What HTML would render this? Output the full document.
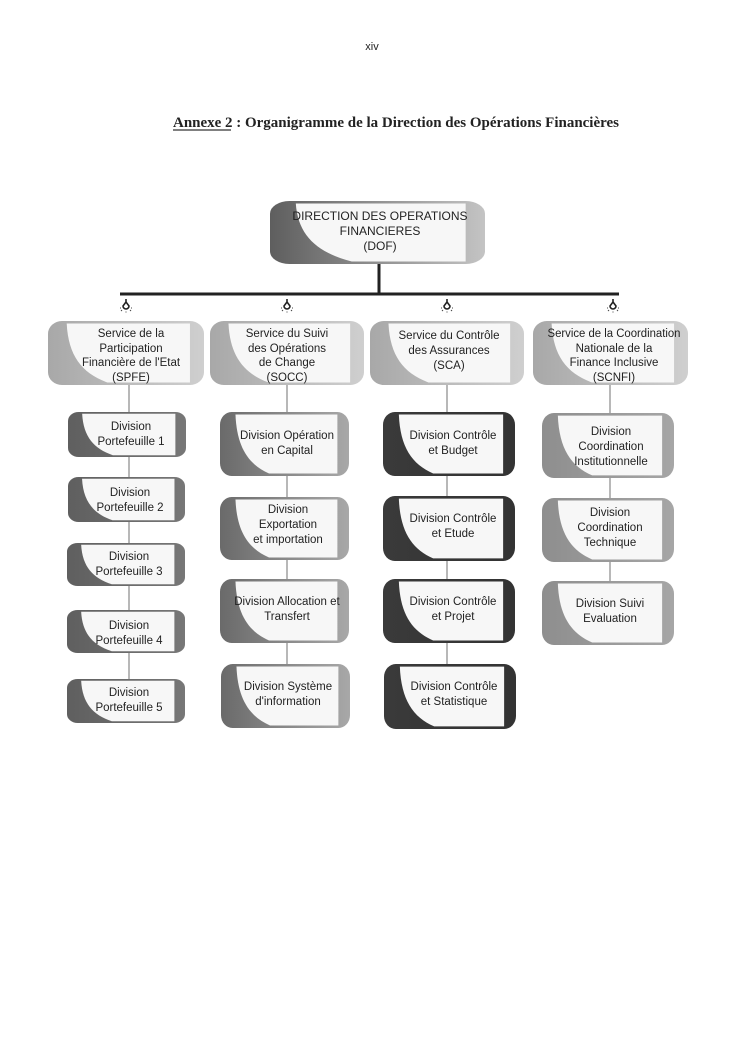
<!DOCTYPE html>
<html><head><meta charset="utf-8"><style>
html,body{margin:0;padding:0;background:#fff;}
svg{display:block;}
text{font-family:"Liberation Sans",sans-serif;fill:#222;}
</style></head><body>
<svg width="745" height="1053" viewBox="0 0 745 1053" xmlns="http://www.w3.org/2000/svg">
<defs>
<symbol id="bx" viewBox="0 0 100 100" preserveAspectRatio="none">
<rect x="0" y="0" width="100" height="100" rx="9" ry="20"/>
<path d="M12,4 L91,4 L91,96 L38,96 C22,82 13,55 12,4 Z" fill="#f7f7f7"/>
</symbol>
<symbol id="bulb" viewBox="0 0 12 14">
<path d="M6,0 V3 M3,7 a3,3 0 1,0 6,0 L6,3 Z" stroke="#222" stroke-width="1.6" fill="#fff"/>
<path d="M1,12 l1,-1 M11,12 l-1,-1 M6,13.5 v-1 M0,9 h1 M12,9 h-1" stroke="#444" stroke-width="1"/>
</symbol>
<linearGradient id="gsv" x1="0" x2="1" y1="0" y2="0"><stop offset="0" stop-color="#a8a8a8"/><stop offset="1" stop-color="#cfcfcf"/></linearGradient>
<linearGradient id="gdof" x1="0" x2="1" y1="0" y2="0"><stop offset="0" stop-color="#5e5e5e"/><stop offset="1" stop-color="#c4c4c4"/></linearGradient>
<linearGradient id="gsp" x1="0" x2="1" y1="0" y2="0"><stop offset="0" stop-color="#5f5f5f"/><stop offset="1" stop-color="#777"/></linearGradient>
<linearGradient id="gso" x1="0" x2="1" y1="0" y2="0"><stop offset="0" stop-color="#6a6a6a"/><stop offset="1" stop-color="#a8a8a8"/></linearGradient>
<linearGradient id="gsc" x1="0" x2="1" y1="0" y2="0"><stop offset="0" stop-color="#3a3a3a"/><stop offset="1" stop-color="#333"/></linearGradient>
<linearGradient id="gsn" x1="0" x2="1" y1="0" y2="0"><stop offset="0" stop-color="#8e8e8e"/><stop offset="1" stop-color="#a6a6a6"/></linearGradient>
</defs>

<text x="372" y="50" font-size="11" text-anchor="middle">xiv</text>
<text x="173" y="127" font-size="14.5" font-weight="700" textLength="446" lengthAdjust="spacingAndGlyphs" style="font-family:'Liberation Serif',serif">Annexe 2 : Organigramme de la Direction des Opérations Financières</text>
<line x1="173" y1="130" x2="231" y2="130" stroke="#000" stroke-width="1"/>

<g stroke="#888" stroke-width="1.2">
<line x1="129" y1="385" x2="129" y2="679"/>
<line x1="287" y1="385" x2="287" y2="664"/>
<line x1="447" y1="385" x2="447" y2="664"/>
<line x1="610" y1="385" x2="610" y2="581"/>
</g>
<line x1="379" y1="262" x2="379" y2="295" stroke="#222" stroke-width="3"/>
<line x1="120" y1="294" x2="619" y2="294" stroke="#222" stroke-width="3"/>
<use href="#bulb" x="120" y="299" width="12" height="14"/>
<use href="#bulb" x="281" y="299" width="12" height="14"/>
<use href="#bulb" x="441" y="299" width="12" height="14"/>
<use href="#bulb" x="607" y="299" width="12" height="14"/>

<use href="#bx" x="270" y="201" width="215" height="63" fill="url(#gdof)"/>
<g font-size="12" text-anchor="middle">
<text x="380" y="220">DIRECTION DES OPERATIONS</text>
<text x="380" y="235">FINANCIERES</text>
<text x="380" y="250">(DOF)</text>
</g>

<use href="#bx" x="48" y="321" width="156" height="64" fill="url(#gsv)"/>
<use href="#bx" x="210" y="321" width="154" height="64" fill="url(#gsv)"/>
<use href="#bx" x="370" y="321" width="154" height="64" fill="url(#gsv)"/>
<use href="#bx" x="533" y="321" width="155" height="64" fill="url(#gsv)"/>
<g font-size="11.5" text-anchor="middle">
<text x="131" y="337">Service de la</text>
<text x="131" y="352">Participation</text>
<text x="131" y="366">Financière de l'Etat</text>
<text x="131" y="381">(SPFE)</text>
<text x="287" y="337">Service du Suivi</text>
<text x="287" y="352">des Opérations</text>
<text x="287" y="366">de Change</text>
<text x="287" y="381">(SOCC)</text>
<text x="449" y="339">Service du Contrôle</text>
<text x="449" y="354">des Assurances</text>
<text x="449" y="369">(SCA)</text>
<text x="614" y="337" textLength="133" lengthAdjust="spacingAndGlyphs">Service de la Coordination</text>
<text x="614" y="352">Nationale de la</text>
<text x="614" y="366">Finance Inclusive</text>
<text x="614" y="381">(SCNFI)</text>
</g>

<g fill="url(#gsp)">
<use href="#bx" x="68" y="412" width="118" height="45"/>
<use href="#bx" x="68" y="477" width="117" height="45"/>
<use href="#bx" x="67" y="543" width="118" height="43"/>
<use href="#bx" x="67" y="610" width="118" height="43"/>
<use href="#bx" x="67" y="679" width="118" height="44"/>
</g>
<g fill="url(#gso)">
<use href="#bx" x="220" y="412" width="129" height="64"/>
<use href="#bx" x="220" y="497" width="129" height="63"/>
<use href="#bx" x="220" y="579" width="129" height="64"/>
<use href="#bx" x="221" y="664" width="129" height="64"/>
</g>
<g fill="url(#gsc)">
<use href="#bx" x="383" y="412" width="132" height="64"/>
<use href="#bx" x="383" y="496" width="132" height="65"/>
<use href="#bx" x="383" y="579" width="132" height="64"/>
<use href="#bx" x="384" y="664" width="132" height="65"/>
</g>
<g fill="url(#gsn)">
<use href="#bx" x="542" y="413" width="132" height="65"/>
<use href="#bx" x="542" y="498" width="132" height="64"/>
<use href="#bx" x="542" y="581" width="132" height="64"/>
</g>

<g font-size="11.5" text-anchor="middle">
<text x="131" y="430">Division</text><text x="131" y="445">Portefeuille 1</text>
<text x="130" y="496">Division</text><text x="130" y="511">Portefeuille 2</text>
<text x="129" y="560">Division</text><text x="129" y="575">Portefeuille 3</text>
<text x="129" y="629">Division</text><text x="129" y="644">Portefeuille 4</text>
<text x="129" y="696">Division</text><text x="129" y="711">Portefeuille 5</text>

<text x="287" y="439">Division Opération</text><text x="287" y="454">en Capital</text>
<text x="288" y="513">Division</text><text x="288" y="528">Exportation</text><text x="288" y="543">et importation</text>
<text x="287" y="605">Division Allocation et</text><text x="287" y="620">Transfert</text>
<text x="288" y="690">Division Système</text><text x="288" y="705">d'information</text>

<text x="453" y="439">Division Contrôle</text><text x="453" y="454">et Budget</text>
<text x="453" y="522">Division Contrôle</text><text x="453" y="537">et Etude</text>
<text x="453" y="605">Division Contrôle</text><text x="453" y="620">et Projet</text>
<text x="454" y="690">Division Contrôle</text><text x="454" y="705">et Statistique</text>

<text x="611" y="435">Division</text><text x="611" y="450">Coordination</text><text x="611" y="465">Institutionnelle</text>
<text x="610" y="516">Division</text><text x="610" y="531">Coordination</text><text x="610" y="546">Technique</text>
<text x="610" y="607">Division Suivi</text><text x="610" y="622">Evaluation</text>
</g>
</svg>
</body></html>
